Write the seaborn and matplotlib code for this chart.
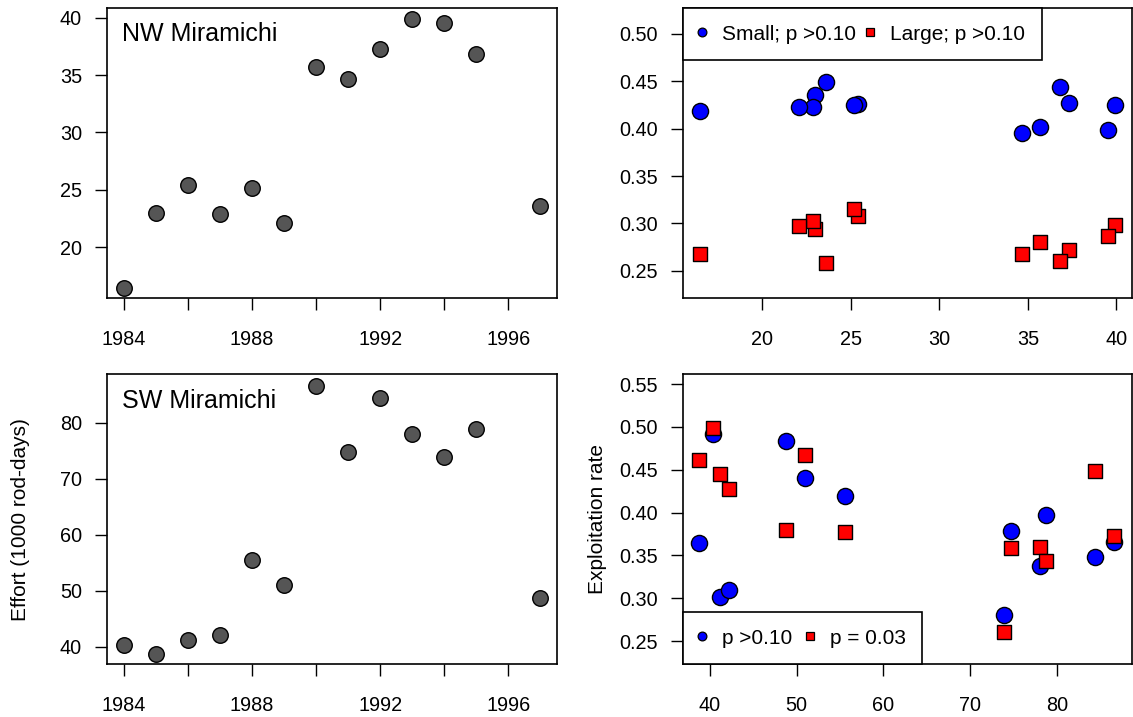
import matplotlib
matplotlib.use("Agg")
import matplotlib.pyplot as plt
from matplotlib.lines import Line2D
import seaborn as sns
import pandas as pd

# ---------------- data ----------------
years = [1984, 1985, 1986, 1987, 1988, 1989, 1990, 1991, 1992, 1993, 1994, 1995, 1997]
nw_effort = [16.5, 23.0, 25.4, 22.9, 25.2, 22.1, 35.7, 34.7, 37.3, 39.9, 39.5, 36.8, 23.6]
sw_effort = [40.4, 38.8, 41.2, 42.2, 55.6, 51.0, 86.6, 74.7, 84.4, 78.0, 73.9, 78.8, 48.8]
nw_small = [0.419, 0.436, 0.426, 0.423, 0.425, 0.423, 0.402, 0.395, 0.427, 0.425, 0.399, 0.444, 0.449]
nw_large = [0.268, 0.294, 0.308, 0.303, 0.315, 0.297, 0.280, 0.268, 0.272, 0.298, 0.287, 0.260, 0.258]
sw_small = [0.492, 0.364, 0.301, 0.310, 0.419, 0.440, 0.366, 0.378, 0.348, 0.337, 0.280, 0.397, 0.484]
sw_large = [0.499, 0.461, 0.445, 0.428, 0.377, 0.467, 0.373, 0.359, 0.449, 0.360, 0.261, 0.343, 0.380]

year_ticks = [1984, 1986, 1988, 1990, 1992, 1994, 1996]
year_labels = ["1984", "", "1988", "", "1992", "", "1996"]
nw_title = "NW Miramichi"
sw_title = "SW Miramichi"
nw_legend = ["Small; p >0.10", "Large; p >0.10"]
sw_legend = ["p >0.10", "p = 0.03"]
ylabel_left = "Effort (1000 rod-days)"
ylabel_right = "Exploitation rate"

df = pd.DataFrame({"year": years, "nw": nw_effort, "sw": sw_effort,
                   "nw_small": nw_small, "nw_large": nw_large,
                   "sw_small": sw_small, "sw_large": sw_large})

# ---------------- style ----------------
sns.set_theme(style="white")
plt.rcParams["font.family"] = ["Liberation Sans", "DejaVu Sans"]
plt.rcParams.update({
    "axes.edgecolor": "black",
    "axes.linewidth": 1.2,
    "xtick.color": "black",
    "ytick.color": "black",
    "xtick.labelcolor": "black",
    "ytick.labelcolor": "black",
    "text.color": "black",
    "axes.labelcolor": "black",
})

W, H = 1133, 717
fig = plt.figure(figsize=(W / 100, H / 100), dpi=100)

def px_axes(x0, y0, x1, y1):
    return fig.add_axes([x0 / W, 1 - y1 / H, (x1 - x0) / W, (y1 - y0) / H])

ax_nw = px_axes(107, 8, 557, 298.3)
ax_nwr = px_axes(683, 8, 1131.5, 298.3)
ax_sw = px_axes(107, 374, 557, 664.3)
ax_swr = px_axes(683, 374, 1131.5, 664.3)

GRAY = "#555555"
PT_S = 125
SQ_S = 100
EW = 1.0

def style(ax):
    ax.tick_params(axis="both", which="both", direction="out", length=8.5,
                   width=1.0, labelsize=14.3, bottom=True, left=True,
                   top=False, right=False)
    ax.tick_params(axis="x", pad=14)
    ax.tick_params(axis="y", pad=9.5)
    for s in ax.spines.values():
        s.set_color("black")
        s.set_linewidth(1.2)
    ax.set_xlabel("")
    ax.set_ylabel("")

# Top-left: NW effort by year
sns.scatterplot(data=df, x="year", y="nw", ax=ax_nw, color=GRAY, s=PT_S,
                edgecolor="black", linewidth=EW, zorder=3)
ax_nw.set_xlim(1983.48, 1997.52)
ax_nw.set_ylim(15.56, 40.84)
ax_nw.set_xticks(year_ticks)
ax_nw.set_xticklabels(year_labels)
ax_nw.set_yticks([20, 25, 30, 35, 40])
style(ax_nw)
ax_nw.text(0.033, 0.886, nw_title, transform=ax_nw.transAxes, fontsize=18,
           ha="left", va="baseline")

# Bottom-left: SW effort by year
sns.scatterplot(data=df, x="year", y="sw", ax=ax_sw, color=GRAY, s=PT_S,
                edgecolor="black", linewidth=EW, zorder=3)
ax_sw.set_xlim(1983.48, 1997.52)
ax_sw.set_ylim(36.9, 88.7)
ax_sw.set_xticks(year_ticks)
ax_sw.set_xticklabels(year_labels)
ax_sw.set_yticks([40, 50, 60, 70, 80])
style(ax_sw)
ax_sw.text(0.033, 0.883, sw_title, transform=ax_sw.transAxes, fontsize=18,
           ha="left", va="baseline")
ax_sw.set_ylabel(ylabel_left, fontsize=15)
ax_sw.yaxis.set_label_coords(-0.17, 0.5)

# Top-right: NW exploitation vs effort
sns.scatterplot(data=df, x="nw", y="nw_small", ax=ax_nwr, color="blue", s=PT_S + 10,
                marker="o", edgecolor="black", linewidth=EW, zorder=3)
sns.scatterplot(data=df, x="nw", y="nw_large", ax=ax_nwr, color="red", s=SQ_S,
                marker="s", edgecolor="black", linewidth=EW, zorder=4)
ax_nwr.set_xlim(15.55, 40.85)
ax_nwr.set_ylim(0.2209, 0.5274)
ax_nwr.set_xticks([20, 25, 30, 35, 40])
ax_nwr.set_yticks([0.25, 0.30, 0.35, 0.40, 0.45, 0.50])
ax_nwr.set_yticklabels(["0.25", "0.30", "0.35", "0.40", "0.45", "0.50"])
style(ax_nwr)

# Bottom-right: SW exploitation vs effort
sns.scatterplot(data=df, x="sw", y="sw_small", ax=ax_swr, color="blue", s=PT_S + 10,
                marker="o", edgecolor="black", linewidth=EW, zorder=3)
sns.scatterplot(data=df, x="sw", y="sw_large", ax=ax_swr, color="red", s=SQ_S,
                marker="s", edgecolor="black", linewidth=EW, zorder=4)
ax_swr.set_xlim(36.9, 88.6)
ax_swr.set_ylim(0.2228, 0.5617)
ax_swr.set_xticks([40, 50, 60, 70, 80])
ax_swr.set_yticks([0.25, 0.30, 0.35, 0.40, 0.45, 0.50, 0.55])
ax_swr.set_yticklabels(["0.25", "0.30", "0.35", "0.40", "0.45", "0.50", "0.55"])
style(ax_swr)
ax_swr.set_ylabel(ylabel_right, fontsize=15)
ax_swr.yaxis.set_label_coords(-0.17, 0.5)

def handles():
    return [Line2D([], [], ls="", marker="o", markersize=6.3, markerfacecolor="blue",
                   markeredgecolor="black", markeredgewidth=0.9),
            Line2D([], [], ls="", marker="s", markersize=5.8, markerfacecolor="red",
                   markeredgecolor="black", markeredgewidth=0.9)]

def add_legend(ax, labels, loc, anchor, cs):
    leg = ax.legend(handles(), labels, ncol=2, loc=loc, bbox_to_anchor=anchor,
                    borderaxespad=0, frameon=True, fancybox=False, framealpha=1,
                    edgecolor="black", fontsize=15, handlelength=0.2,
                    handletextpad=0.86, columnspacing=cs, borderpad=0.8)
    leg.get_frame().set_linewidth(1.2)
    leg.set_zorder(10)
    return leg

add_legend(ax_nwr, nw_legend, "upper left", (0, 1), 0.6)
add_legend(ax_swr, sw_legend, "lower left", (0, 0), 0.75)

fig.savefig("out.png", dpi=100)
